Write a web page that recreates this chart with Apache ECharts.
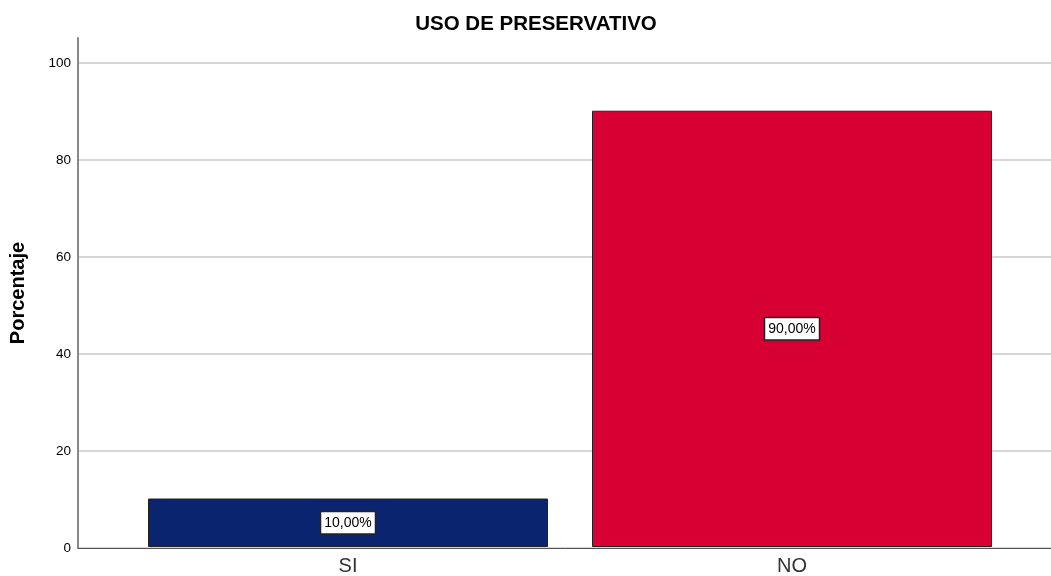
<!DOCTYPE html>
<html><head><meta charset="utf-8">
<script src="https://cdn.jsdelivr.net/npm/echarts@6/dist/echarts.min.js"></script>
<style>html,body{margin:0;padding:0;background:#fff}#c{width:1051px;height:576px}</style>
</head><body><div id="c"></div>
<script>
const categories = ['SI', 'NO'];
const values = [10, 90];
const labels = ['10,00%', '90,00%'];
const colors = ['#0a2470', '#d70033'];
const yTicks = [0, 20, 40, 60, 80, 100];

const FONT = '"Liberation Sans", Arial, sans-serif';
const chart = echarts.init(document.getElementById('c'));
chart.setOption({
  animation: false,
  backgroundColor: '#fff',
  title: {text: 'USO DE PRESERVATIVO', left: 531, textAlign: 'center', top: 9,
    textStyle: {fontFamily: FONT, fontSize: 20.5, fontWeight: 'bold', color: '#000'}},
  grid: [
    {left: 78, right: 0, top: 38, bottom: 28},
    {left: 126, right: 37, top: 38, bottom: 28},
    {left: 78, right: 0, top: 63, bottom: 28}
  ],
  xAxis: [
    {gridIndex: 0, type: 'value', min: 0, max: 1, axisLine: {show: true, lineStyle: {color: '#555', width: 1}},
     axisTick: {show: false}, axisLabel: {show: false}, splitLine: {show: false}},
    {gridIndex: 1, type: 'category', data: categories, axisLine: {show: false}, axisTick: {show: false},
     axisLabel: {fontFamily: FONT, fontSize: 20, color: '#333', margin: 9}},
    {gridIndex: 2, type: 'value', min: 0, max: 1, show: false}
  ],
  yAxis: [
    {gridIndex: 0, type: 'value', min: 0, max: 105,
     name: 'Porcentaje', nameLocation: 'middle', nameGap: 50, nameRotate: 90,
     nameTextStyle: {fontFamily: FONT, fontSize: 20, fontWeight: 'bold', color: '#000'},
     axisLine: {show: true, lineStyle: {color: '#888', width: 2}}, axisTick: {show: false},
     axisLabel: {show: false}, splitLine: {show: false}},
    {gridIndex: 1, type: 'value', min: 0, max: 105, show: false},
    {gridIndex: 2, type: 'value', min: 0, max: 100, interval: 20,
     axisLine: {show: false}, axisTick: {show: false},
     axisLabel: {fontFamily: FONT, fontSize: 13.5, color: '#000', margin: 7,
       formatter: v => yTicks.includes(v) ? String(v) : ''},
     splitLine: {show: true, lineStyle: {color: '#c8c8c8', width: 1.5}}}
  ],
  series: [{
    type: 'bar', xAxisIndex: 1, yAxisIndex: 1, barWidth: 400, z: 3,
    data: values.map((v, i) => ({value: v, itemStyle: {color: colors[i]}})),
    itemStyle: {borderColor: '#222', borderWidth: 1},
    label: {show: true, position: 'inside', formatter: p => labels[p.dataIndex],
      fontFamily: FONT, fontSize: 14, color: '#000', backgroundColor: '#fff',
      borderColor: '#222', borderWidth: 1.5, padding: [4, 3, 3, 3]}
  }]
});
</script></body></html>
